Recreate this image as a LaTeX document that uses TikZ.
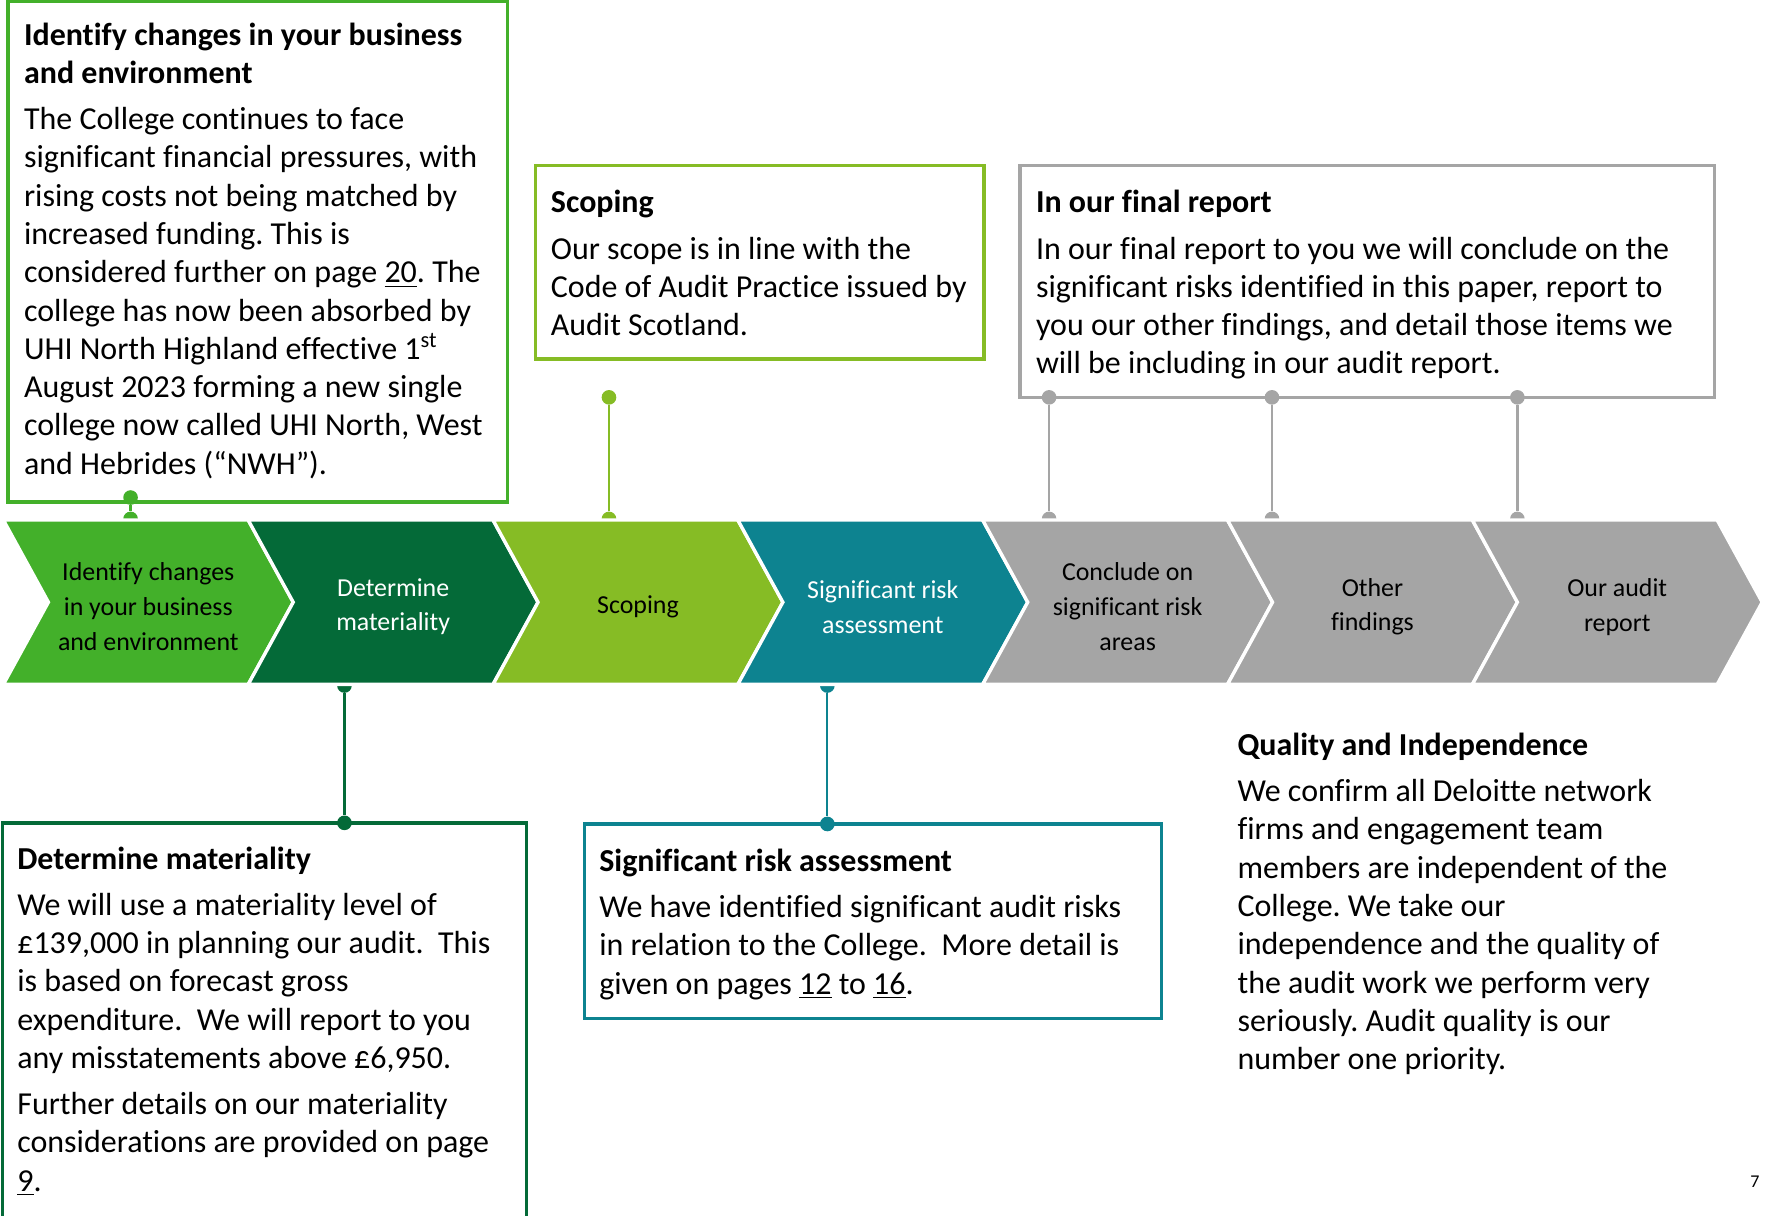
\documentclass[tikz,border=0pt]{standalone}
\usepackage{fontspec}
\setmainfont{Carlito}[Ligatures=NoCommon]
\usetikzlibrary{positioning}
\definecolor{chgreen}{HTML}{43B02A}
\definecolor{darkgreen}{HTML}{046A38}
\definecolor{limegreen}{HTML}{86BC25}
\definecolor{tealblue}{HTML}{0D8390}
\definecolor{midgray}{HTML}{A5A5A5}
\frenchspacing
\begin{document}
\begin{tikzpicture}[x=0.5pt,y=-0.5pt]
\tikzstyle{every node}+=[inner sep=0pt]
\tikzstyle{boxtext}=[anchor=north west, align=left, font=\fontsize{14.2}{17}\selectfont]
\tikzstyle{steplabel}=[align=center, font=\fontsize{11.5}{15.5}\selectfont]
\tikzstyle{dot}=[circle, minimum size=6.5pt]
\tikzstyle{link}=[line width=1pt]
\tikzstyle{frame}=[line width=1.5pt]
\useasboundingbox (0,0) rectangle (1568,1080);
% text boxes
\draw [frame, chgreen] (7,1) rectangle (451,446);
\node [boxtext] (changes) at (21,16) {\strut\textbf{Identify changes in your business}\\
\textbf{and environment}\\[3.5pt]
The College continues to face\\
significant financial pressures, with\\
rising costs not being matched by\\
increased funding. This is\\
considered further on page \underline{20}. The\\
college has now been absorbed by\\
UHI North Highland effective 1\textsuperscript{st}\\
August 2023 forming a new single\\
college now called UHI North, West\\
and Hebrides (“NWH”).};
\draw [frame, limegreen] (476,147) rectangle (874,319);
\node [boxtext] (scoping) at (489,165) {\strut\textbf{Scoping}\\[3.5pt]
Our scope is in line with the\\
Code of Audit Practice issued by\\
Audit Scotland.};
\draw [frame, midgray] (906,147) rectangle (1523,353);
\node [boxtext] (final) at (920,165) {\strut\textbf{In our final report}\\[3.5pt]
In our final report to you we will conclude on the\\
significant risks identified in this paper, report to\\
you our other findings, and detail those items we\\
will be including in our audit report.};
\draw [frame, darkgreen] (2,1084) -- (2,731) -- (468,731) -- (468,1084);
\node [boxtext] (materiality) at (15,748) {\strut\textbf{Determine materiality}\\[3.5pt]
We will use a materiality level of\\
£139,000 in planning our audit.\ \ This\\
is based on forecast gross\\
expenditure.\ \ We will report to you\\
any misstatements above £6,950.\\[3.5pt]
Further details on our materiality\\
considerations are provided on page\\
\underline{9}.};
\draw [frame, tealblue] (519,732) rectangle (1032,905);
\node [boxtext] (risk) at (532,750) {\strut\textbf{Significant risk assessment}\\[3.5pt]
We have identified significant audit risks\\
in relation to the College.\ \ More detail is\\
given on pages \underline{12} to \underline{16}.};
\node [boxtext] (quality) at (1099,647) {\strut\textbf{Quality and Independence}\\[3.5pt]
We confirm all Deloitte network\\
firms and engagement team\\
members are independent of the\\
College. We take our\\
independence and the quality of\\
the audit work we perform very\\
seriously. Audit quality is our\\
number one priority.};
% connectors
\node [dot, fill=chgreen] (c1a) at (116,442) {};
\node [dot, fill=chgreen] (c1b) at (116,461) {};
\draw [link, chgreen] (c1a) -- (c1b);
\node [dot, fill=limegreen] (c3a) at (541,353) {};
\node [dot, fill=limegreen] (c3b) at (541,461) {};
\draw [link, limegreen] (c3a) -- (c3b);
\foreach \x/\n in {932/5, 1130/6, 1348/7} {
  \node [dot, fill=midgray] (c\n a) at (\x,353) {};
  \node [dot, fill=midgray] (c\n b) at (\x,461) {};
  \draw [link, midgray] (c\n a) -- (c\n b);
}
\node [dot, fill=darkgreen] (c2a) at (306,609) {};
\node [dot, fill=darkgreen] (c2b) at (306,731) {};
\draw [link, darkgreen] (c2a) -- (c2b);
\node [dot, fill=tealblue] (c4a) at (735,609) {};
\node [dot, fill=tealblue] (c4b) at (735,732) {};
\draw [link, tealblue] (c4a) -- (c4b);
% chevrons
\foreach \i/\col/\txt/\lbl in {0/chgreen/black/{Identify changes\\in your business\\and environment},
  1/darkgreen/white/{Determine\\materiality},
  2/limegreen/black/{Scoping},
  3/tealblue/white/{Significant risk\\assessment},
  4/midgray/black/{Conclude on\\significant risk\\areas},
  5/midgray/black/{Other\\findings},
  6/midgray/black/{Our audit\\report}} {
  \pgfmathsetmacro\L{3+217.5*\i}
  \filldraw [fill=\col, draw=white, line width=1.5pt] (\L,462) -- ++(217.5,0) -- ++(40,73) -- ++(-40,73) -- ++(-217.5,0) -- ++(40,-73) -- cycle;
  \node [steplabel, text=\txt] (chev\i) at (\L+128.75,539) {\lbl};
}
\node [font=\fontsize{8}{10}\selectfont] (pagenum) at (1559,1050) {7};
\end{tikzpicture}
\end{document}
